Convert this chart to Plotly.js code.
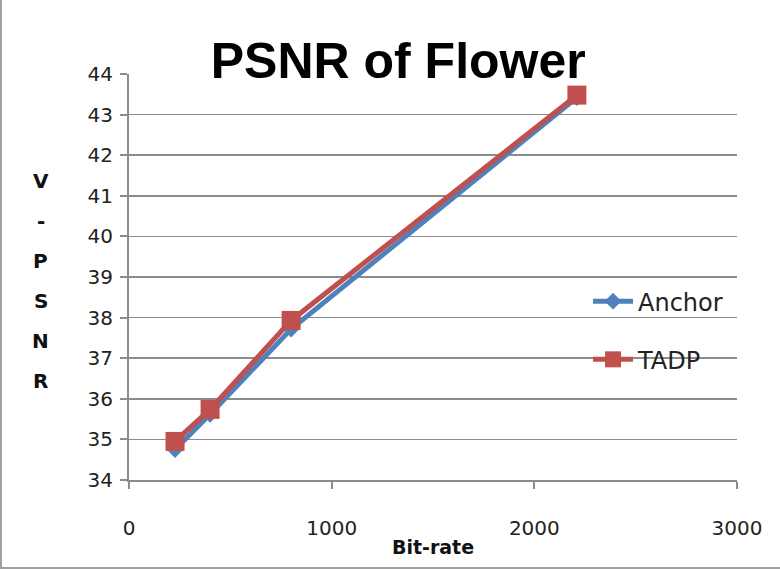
<!DOCTYPE html>
<html><head><meta charset="utf-8">
<script src="https://cdn.plot.ly/plotly-3.0.1.min.js"></script>
<style>html,body{margin:0;padding:0;background:#fff}#c{width:780px;height:569px;box-sizing:border-box;border:2px solid #a0a0a0;border-top:none;border-right:none}</style>
</head><body><div id="c"></div>
<script>
const bitrate = [227, 400, 800, 2210];
const anchorPSNR = [34.75, 35.62, 37.72, 43.42];
const tadpPSNR = [34.95, 35.74, 37.93, 43.48];
const seriesNames = ["Anchor", "TADP"];
const yLabelLetters = ["V", "-", "P", "S", "N", "R"];

const font = "DejaVu Sans, sans-serif";
const traces = [
  {x: bitrate, y: anchorPSNR, name: seriesNames[0], mode: "lines+markers", legendgroup: "a",
   line: {color: "#4F81BD", width: 5}, marker: {symbol: "diamond", size: 13, color: "#4F81BD"}},
  {x: bitrate, y: tadpPSNR, name: seriesNames[1], mode: "lines+markers", legendgroup: "b",
   line: {color: "#C0504D", width: 5}, marker: {symbol: "square", size: 19, color: "#C0504D"}}
];
const letterAnns = yLabelLetters.map((ch, i) => ({
  text: "<b>" + ch + "</b>", xref: "paper", yref: "paper",
  x: -0.145, y: (480 - (181 + i * 40)) / 406, xanchor: "center", yanchor: "middle",
  showarrow: false, font: {size: 20, color: "#111"}
}));
const layout = {
  width: 780, height: 569,
  margin: {l: 127, r: 45, t: 74, b: 89},
  paper_bgcolor: "rgba(0,0,0,0)", plot_bgcolor: "#fff",
  font: {family: font, color: "#222"},
  title: {text: "PSNR of Flower", font: {family: "Liberation Sans, Arial, sans-serif", size: 50, color: "#000", weight: "bold"},
          x: 0.508, xanchor: "center", y: 0.893, yanchor: "middle", yref: "container"},
  xaxis: {range: [0, 3000], tickvals: [0, 1000, 2000, 3000], showgrid: false, zeroline: false,
          showline: true, linecolor: "#8c8c8c", linewidth: 2, ticks: "outside", ticklen: 7, tickcolor: "#8c8c8c", tickwidth: 2,
          ticklabelstandoff: 22, tickfont: {size: 20, color: "#222"},
          title: {text: "<b>Bit-rate</b>", font: {size: 19, color: "#111"}, standoff: 2}},
  yaxis: {range: [34, 44], dtick: 1, showgrid: true, gridcolor: "#8c8c8c", gridwidth: 1.5, zeroline: false,
          showline: true, linecolor: "#8c8c8c", linewidth: 2, ticks: "outside", ticklen: 7, tickcolor: "#8c8c8c", tickwidth: 2,
          ticklabelstandoff: 3, tickfont: {size: 20, color: "#222"}},
  legend: {x: 0.755, xanchor: "left", y: 0.495, yanchor: "top", bgcolor: "rgba(0,0,0,0)",
           font: {size: 24, color: "#222"}, tracegroupgap: 24, traceorder: "grouped", itemwidth: 40},
  showlegend: true,
  annotations: letterAnns
};
Plotly.newPlot("c", traces, layout, {displayModeBar: false, staticPlot: true});
</script></body></html>
